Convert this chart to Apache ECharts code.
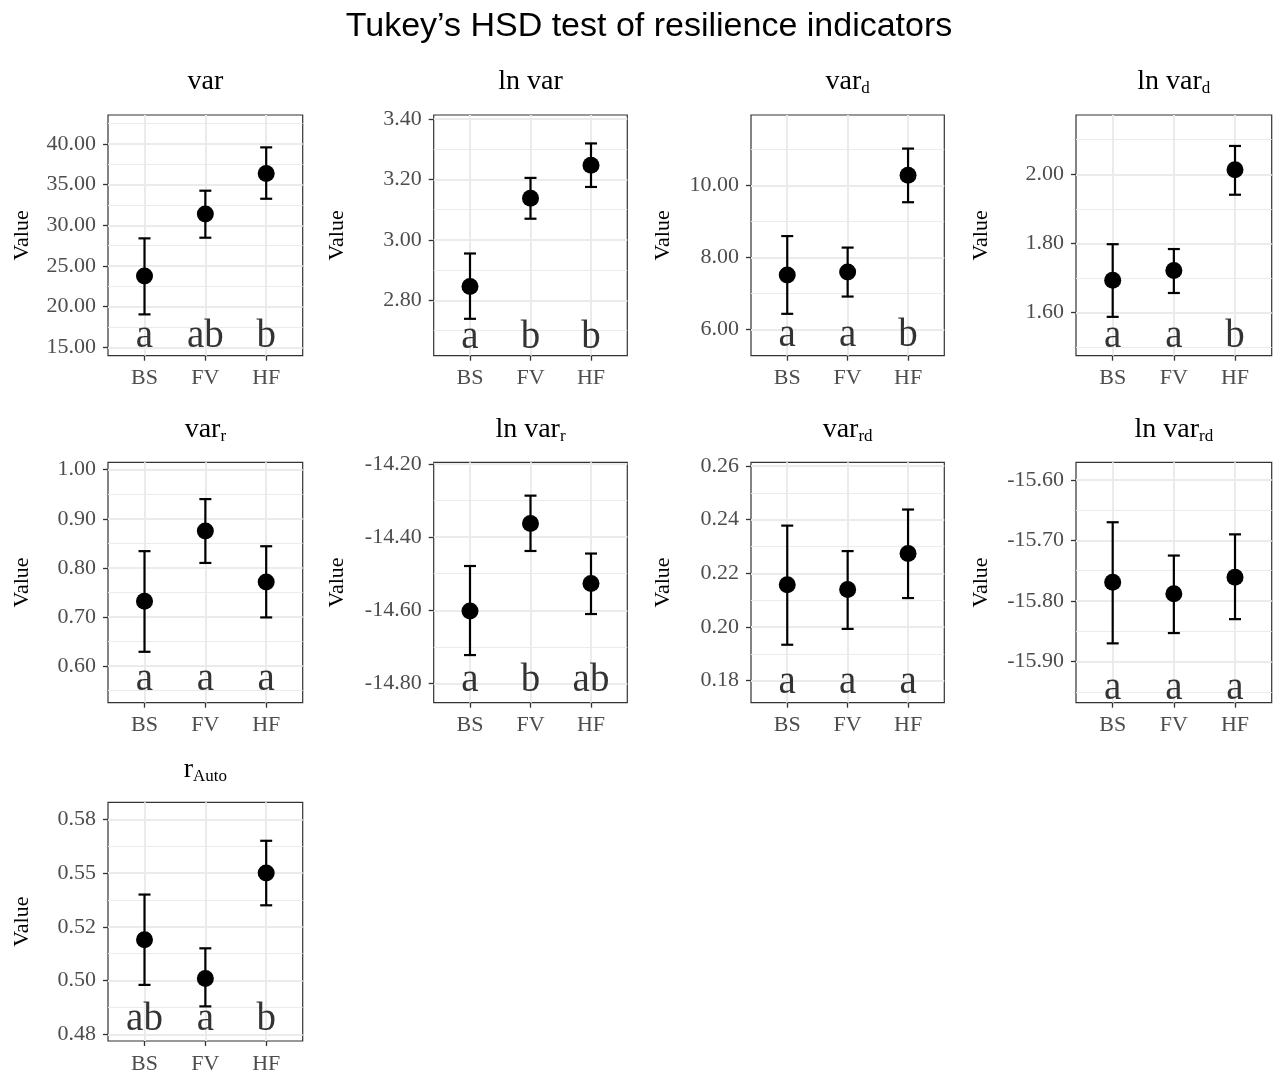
<!DOCTYPE html>
<html><head><meta charset="utf-8">
<script src="https://cdn.jsdelivr.net/npm/echarts@6/dist/echarts.min.js"></script>
<style>html,body{margin:0;padding:0;background:#fff}#c{width:1273px;height:1075px}</style>
</head><body><div id="c"></div>
<script>
// ---------- data ----------
const categories = ['BS', 'FV', 'HF'];
const chartTitle = 'Tukey\u2019s HSD test of resilience indicators';

const varMean = [23.76, 31.39, 36.39];
const varLow = [19.05, 28.48, 33.27];
const varHigh = [28.40, 34.26, 39.59];
const varLetters = ['a', 'ab', 'b'];
const varTicks = [15, 20, 25, 30, 35, 40];
const varTickLabels = ['15.00', '20.00', '25.00', '30.00', '35.00', '40.00'];
const varRange = [13.97, 43.57];
const varLetterY = 14.87;

const lnVarMean = [2.846, 3.138, 3.247];
const lnVarLow = [2.739, 3.070, 3.175];
const lnVarHigh = [2.955, 3.205, 3.319];
const lnVarLetters = ['a', 'b', 'b'];
const lnVarTicks = [2.8, 3.0, 3.2, 3.4];
const lnVarTickLabels = ['2.80', '3.00', '3.20', '3.40'];
const lnVarRange = [2.617, 3.413];
const lnVarLetterY = 2.636;

const varDMean = [7.51, 7.59, 10.28];
const varDLow = [6.43, 6.91, 9.53];
const varDHigh = [8.59, 8.27, 11.02];
const varDLetters = ['a', 'a', 'b'];
const varDTicks = [6, 8, 10];
const varDTickLabels = ['6.00', '8.00', '10.00'];
const varDRange = [5.267, 11.953];
const varDLetterY = 5.50;

const lnVarDMean = [1.694, 1.722, 2.013];
const lnVarDLow = [1.588, 1.657, 1.941];
const lnVarDHigh = [1.798, 1.784, 2.082];
const lnVarDLetters = ['a', 'a', 'b'];
const lnVarDTicks = [1.6, 1.8, 2.0];
const lnVarDTickLabels = ['1.60', '1.80', '2.00'];
const lnVarDRange = [1.4757, 2.1715];
const lnVarDLetterY = 1.497;

const varRMean = [0.732, 0.875, 0.771];
const varRLow = [0.629, 0.810, 0.699];
const varRHigh = [0.834, 0.940, 0.844];
const varRLetters = ['a', 'a', 'a'];
const varRTicks = [0.6, 0.7, 0.8, 0.9, 1.0];
const varRTickLabels = ['0.60', '0.70', '0.80', '0.90', '1.00'];
const varRRange = [0.5253, 1.015];
const varRLetterY = 0.5476;

const lnVarRMean = [-14.602, -14.363, -14.527];
const lnVarRLow = [-14.722, -14.438, -14.610];
const lnVarRHigh = [-14.479, -14.287, -14.445];
const lnVarRLetters = ['a', 'b', 'ab'];
const lnVarRTicks = [-14.8, -14.6, -14.4, -14.2];
const lnVarRTickLabels = ['-14.80', '-14.60', '-14.40', '-14.20'];
const lnVarRRange = [-14.852, -14.196];
const lnVarRLetterY = -14.826;

const varRdMean = [0.2158, 0.2140, 0.2274];
const varRdLow = [0.1934, 0.1993, 0.2108];
const varRdHigh = [0.2378, 0.2283, 0.2438];
const varRdLetters = ['a', 'a', 'a'];
const varRdTicks = [0.18, 0.20, 0.22, 0.24, 0.26];
const varRdTickLabels = ['0.18', '0.20', '0.22', '0.24', '0.26'];
const varRdRange = [0.1718, 0.2614];
const varRdLetterY = 0.1749;

const lnVarRdMean = [-15.769, -15.788, -15.761];
const lnVarRdLow = [-15.870, -15.853, -15.830];
const lnVarRdHigh = [-15.670, -15.725, -15.690];
const lnVarRdLetters = ['a', 'a', 'a'];
const lnVarRdTicks = [-15.9, -15.8, -15.7, -15.6];
const lnVarRdTickLabels = ['-15.90', '-15.80', '-15.70', '-15.60'];
const lnVarRdRange = [-15.968, -15.571];
const lnVarRdLetterY = -15.964;

const rAutoMean = [0.519, 0.501, 0.550];
const rAutoLow = [0.498, 0.488, 0.535];
const rAutoHigh = [0.540, 0.515, 0.565];
const rAutoLetters = ['ab', 'a', 'b'];
const rAutoTicks = [0.475, 0.5, 0.525, 0.55, 0.575];
const rAutoTickLabels = ['0.48', '0.50', '0.52', '0.55', '0.58'];
const rAutoRange = [0.4719, 0.5829];
const rAutoLetterY = 0.476;

const panels = [
  {title: '{m|var}', mean: varMean, low: varLow, high: varHigh, letters: varLetters, ticks: varTicks, tickLabels: varTickLabels, range: varRange, letterY: varLetterY},
  {title: '{m|ln var}', mean: lnVarMean, low: lnVarLow, high: lnVarHigh, letters: lnVarLetters, ticks: lnVarTicks, tickLabels: lnVarTickLabels, range: lnVarRange, letterY: lnVarLetterY},
  {title: '{m|var}{s|d}', mean: varDMean, low: varDLow, high: varDHigh, letters: varDLetters, ticks: varDTicks, tickLabels: varDTickLabels, range: varDRange, letterY: varDLetterY},
  {title: '{m|ln var}{s|d}', mean: lnVarDMean, low: lnVarDLow, high: lnVarDHigh, letters: lnVarDLetters, ticks: lnVarDTicks, tickLabels: lnVarDTickLabels, range: lnVarDRange, letterY: lnVarDLetterY},
  {title: '{m|var}{s|r}', mean: varRMean, low: varRLow, high: varRHigh, letters: varRLetters, ticks: varRTicks, tickLabels: varRTickLabels, range: varRRange, letterY: varRLetterY},
  {title: '{m|ln var}{s|r}', mean: lnVarRMean, low: lnVarRLow, high: lnVarRHigh, letters: lnVarRLetters, ticks: lnVarRTicks, tickLabels: lnVarRTickLabels, range: lnVarRRange, letterY: lnVarRLetterY},
  {title: '{m|var}{s|rd}', mean: varRdMean, low: varRdLow, high: varRdHigh, letters: varRdLetters, ticks: varRdTicks, tickLabels: varRdTickLabels, range: varRdRange, letterY: varRdLetterY},
  {title: '{m|ln var}{s|rd}', mean: lnVarRdMean, low: lnVarRdLow, high: lnVarRdHigh, letters: lnVarRdLetters, ticks: lnVarRdTicks, tickLabels: lnVarRdTickLabels, range: lnVarRdRange, letterY: lnVarRdLetterY},
  {title: '{m|r}{s|Auto}', mean: rAutoMean, low: rAutoLow, high: rAutoHigh, letters: rAutoLetters, ticks: rAutoTicks, tickLabels: rAutoTickLabels, range: rAutoRange, letterY: rAutoLetterY}
];

// ---------- layout ----------
const colLeft = [108, 433.7, 751, 1076];
const colWidth = [194.7, 193.6, 193.3, 195.7];
const colNameGap = [75, 85.7, 76.5, 84];
const rowTop = [115, 462.3, 802.3];
const rowHeight = [240.7, 240.4, 239.4];

const SERIF = 'Liberation Serif';
const GRID = '#EBEBEB';
const DARK = '#333333';

const option = {
  animation: false,
  backgroundColor: '#fff',
  textStyle: {fontFamily: SERIF},
  title: [{
    text: chartTitle, left: 649, top: 9.5, textAlign: 'center', padding: 0,
    textStyle: {fontFamily: 'Liberation Sans', fontSize: 34, fontWeight: 'normal', color: '#000', lineHeight: 34}
  }],
  grid: [], xAxis: [], yAxis: [], series: []
};

panels.forEach((p, i) => {
  const r = Math.floor(i / 4), c = i % 4;
  const left = colLeft[c], top = rowTop[r], w = colWidth[c], h = rowHeight[r];
  option.grid.push({left: left, top: top, width: w, height: h, show: true, borderColor: DARK, borderWidth: 1.2, backgroundColor: 'transparent', containLabel: false});
  option.title.push({
    text: p.title, left: left + w / 2, top: top - 28 - 23.5 + 3.5, textAlign: 'center', padding: 0,
    textStyle: {
      fontWeight: 'normal',
      rich: {
        m: {fontFamily: SERIF, fontSize: 28, lineHeight: 30, color: '#000', fontWeight: 'normal'},
        s: {fontFamily: SERIF, fontSize: 17, lineHeight: 17, color: '#000', fontWeight: 'normal', padding: [14, 0, 0, 0]}
      }
    }
  });
  const step = p.ticks[1] - p.ticks[0];
  const minor = [];
  for (let k = -1; k < p.ticks.length; k++) {
    const v = p.ticks[0] + (k + 0.5) * step;
    if (v > p.range[0] && v < p.range[1]) minor.push(v);
  }
  option.xAxis.push({
    type: 'value', gridIndex: i, min: 0.4, max: 3.6,
    axisLine: {show: false},
    axisTick: {show: true, customValues: [1, 2, 3], length: 5, lineStyle: {color: DARK, width: 1.3}},
    axisLabel: {customValues: [1, 2, 3], formatter: v => categories[Math.round(v) - 1], fontFamily: SERIF, fontSize: 22, color: '#4D4D4D', margin: 12},
    splitLine: {show: true, lineStyle: {color: GRID, width: 2}}
  });
  option.yAxis.push({
    type: 'value', gridIndex: i, min: p.range[0], max: p.range[1], position: 'left',
    axisLine: {show: false}, axisTick: {show: false, customValues: minor}, axisLabel: {show: false, customValues: minor},
    splitLine: {show: true, lineStyle: {color: GRID, width: 1}}
  });
  const yIndex = option.yAxis.length;
  option.yAxis.push({
    type: 'value', gridIndex: i, min: p.range[0], max: p.range[1], position: 'left',
    axisLine: {show: false},
    axisTick: {show: true, customValues: p.ticks, length: 5, lineStyle: {color: DARK, width: 1.3}},
    axisLabel: {
      customValues: p.ticks, fontFamily: SERIF, fontSize: 22, color: '#4D4D4D', margin: 12,
      formatter: v => { const j = p.ticks.findIndex(t => Math.abs(t - v) < 1e-9); return j >= 0 ? p.tickLabels[j] : ''; }
    },
    splitLine: {show: true, lineStyle: {color: GRID, width: 2}},
    name: 'Value', nameLocation: 'middle', nameRotate: 90, nameGap: colNameGap[c],
    nameTextStyle: {fontFamily: SERIF, fontSize: 22, color: '#000'}
  });
  // error bars
  option.series.push({
    type: 'custom', xAxisIndex: i, yAxisIndex: yIndex,
    data: categories.map((cat, j) => [j + 1, p.low[j], p.high[j]]),
    encode: {x: 0, y: [1, 2]},
    renderItem: (params, api) => {
      const x = api.value(0);
      const lo = api.coord([x, api.value(1)]);
      const hi = api.coord([x, api.value(2)]);
      const hw = 6;
      const st = {stroke: '#000', lineWidth: 2.2};
      return {type: 'group', children: [
        {type: 'line', shape: {x1: lo[0], y1: lo[1], x2: hi[0], y2: hi[1]}, style: st},
        {type: 'line', shape: {x1: hi[0] - hw, y1: hi[1], x2: hi[0] + hw, y2: hi[1]}, style: st},
        {type: 'line', shape: {x1: lo[0] - hw, y1: lo[1], x2: lo[0] + hw, y2: lo[1]}, style: st}
      ]};
    },
    z: 3
  });
  // means
  option.series.push({
    type: 'scatter', xAxisIndex: i, yAxisIndex: yIndex, symbol: 'circle', symbolSize: 17,
    itemStyle: {color: '#000', opacity: 1},
    data: categories.map((cat, j) => [j + 1, p.mean[j]]), z: 4
  });
  // group letters
  option.series.push({
    type: 'scatter', xAxisIndex: i, yAxisIndex: yIndex, symbolSize: 0.01,
    itemStyle: {color: 'transparent'},
    label: {show: true, position: 'inside', formatter: q => q.value[2], fontFamily: SERIF, fontSize: 39, color: '#000', textBorderWidth: 0, offset: [0, -12]},
    data: categories.map((cat, j) => [j + 1, p.letterY, p.letters[j]]), z: 5
  });
});

const chart = echarts.init(document.getElementById('c'), null, {renderer: 'canvas'});
chart.setOption(option);
</script></body></html>
